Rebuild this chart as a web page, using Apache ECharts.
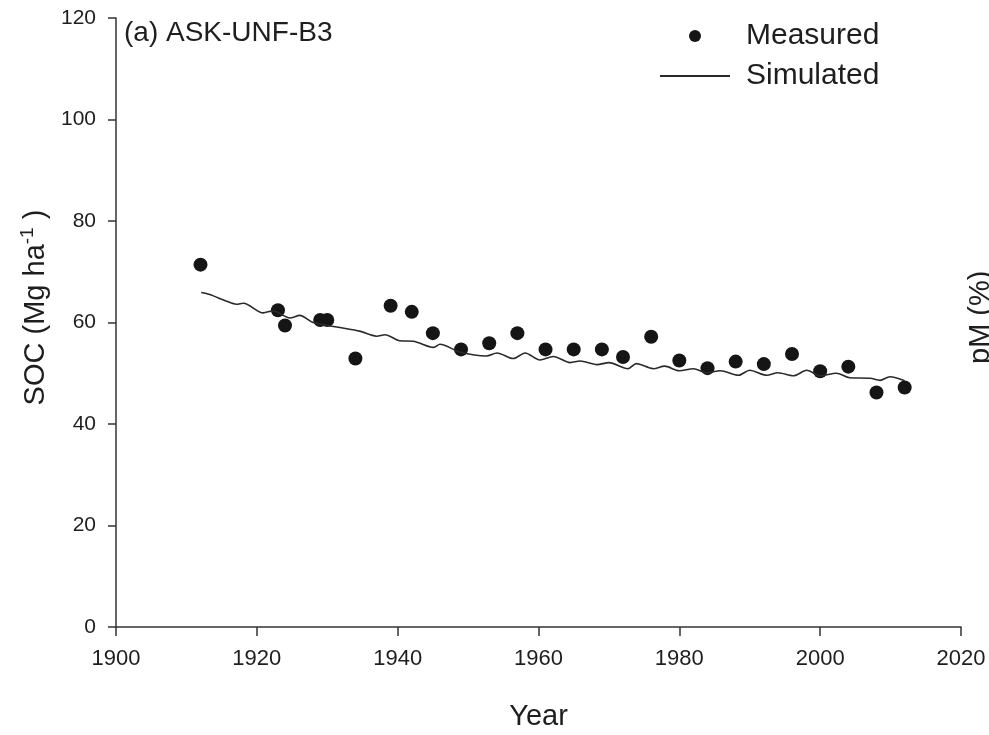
<!DOCTYPE html>
<html lang="en">
<head>
    <meta charset="UTF-8">
    <title>SOC ASK-UNF-B3</title>
    <script src="https://cdn.jsdelivr.net/npm/echarts@6/dist/echarts.min.js"></script>
    <style>
        body {
            margin: 0;
            background-color: #ffffff;
        }
        #chart {
            width: 989px;
            height: 735px;
        }
    </style>
</head>
<body>
<div id="chart"></div>
<script>
    // measured points
    var measuredYears = [1912, 1923, 1924, 1929, 1930, 1934, 1939, 1942, 1945, 1949, 1953, 1957, 1961,
        1965, 1969, 1972, 1976, 1980, 1984, 1988, 1992, 1996, 2000, 2004, 2008, 2012];
    var measuredSoc = [71.4, 62.4, 59.4, 60.5, 60.5, 52.9, 63.3, 62.1, 57.9, 54.7, 55.9, 57.9, 54.7,
        54.7, 54.7, 53.2, 57.2, 52.5, 51.0, 52.3, 51.8, 53.8, 50.4, 51.3, 46.2, 47.2];

    // simulated curve (traced)
    var simYears = [1912.1, 1913.3, 1915.7, 1917.1, 1918.1, 1920.9, 1922.3, 1924.7, 1926.1, 1928.0,
        1931.8, 1934.6, 1937.0, 1938.2, 1940.3, 1942.2, 1945.1, 1946.0, 1948.8, 1952.6,
        1954.1, 1956.4, 1958.1, 1960.2, 1962.1, 1964.5, 1965.9, 1968.3, 1970.0, 1972.7,
        1973.9, 1976.3, 1977.9, 1980.0, 1982.0, 1983.9, 1985.8, 1988.4, 1990.0, 1992.4,
        1994.0, 1996.2, 1998.1, 2000.0, 2002.3, 2004.2, 2007.1, 2008.5, 2009.9, 2012.0];
    var simSoc = [65.9, 65.5, 64.2, 63.6, 63.8, 61.9, 62.3, 60.9, 61.4, 60.0,
        59.0, 58.3, 57.3, 57.6, 56.4, 56.3, 55.1, 55.7, 54.2, 53.4,
        54.0, 52.9, 54.0, 52.6, 53.3, 52.1, 52.4, 51.7, 52.1, 50.9,
        51.9, 50.9, 51.4, 50.5, 50.9, 50.1, 50.5, 49.6, 50.6, 49.6,
        50.1, 49.5, 50.6, 49.5, 50.0, 49.1, 49.0, 48.6, 49.3, 48.5];

    var xTicks = {min: 1900, max: 2020, step: 20};
    var yTicks = {min: 0, max: 120, step: 20};

    var measuredData = measuredYears.map(function (y, i) { return [y, measuredSoc[i]]; });
    var simData = simYears.map(function (y, i) { return [y, simSoc[i]]; });

    var fontFam = '"Liberation Sans", Arial, sans-serif';
    var axisColor = '#333333';
    var txt = '#1e1e1e';

    var chart = echarts.init(document.getElementById('chart'));
    var option = {
        backgroundColor: '#ffffff',
        animation: false,
        textStyle: {fontFamily: fontFam},
        grid: {left: 116, right: 28, top: 18, bottom: 108, outerBoundsMode: 'none'},
        legend: {
            orient: 'vertical',
            left: 654,
            top: 16,
            itemWidth: 70,
            itemHeight: 12,
            itemGap: 10,
            textStyle: {fontSize: 30, color: txt, fontFamily: fontFam, padding: [0, 0, 0, 11]},
            data: [
                {name: 'Measured'},
                {name: 'Simulated', itemStyle: {opacity: 0}}
            ]
        },
        xAxis: {
            type: 'value',
            min: xTicks.min,
            max: xTicks.max,
            interval: xTicks.step,
            name: 'Year',
            nameLocation: 'middle',
            nameGap: 75,
            nameTextStyle: {fontSize: 29, color: txt},
            axisLine: {show: true, lineStyle: {color: axisColor, width: 1.5}},
            axisTick: {show: true, length: 9, lineStyle: {color: axisColor, width: 1.5}},
            axisLabel: {fontSize: 22, color: txt, margin: 21, formatter: function (v) { return String(v); }},
            splitLine: {show: false}
        },
        yAxis: {
            type: 'value',
            min: yTicks.min,
            max: yTicks.max,
            interval: yTicks.step,
            name: 'SOC (Mg ha{sup|-1} )',
            nameLocation: 'middle',
            nameGap: 52,
            nameTextStyle: {
                fontSize: 29,
                color: txt,
                padding: [0, 0, 0, 30],
                rich: {sup: {fontSize: 19, color: txt, padding: [0, 0, 16, 0]}}
            },
            axisLine: {show: true, lineStyle: {color: axisColor, width: 1.5}},
            axisTick: {show: true, length: 8, lineStyle: {color: axisColor, width: 1.5}},
            axisLabel: {fontSize: 21, color: txt, margin: 20},
            splitLine: {show: false}
        },
        graphic: [
            {type: 'text', left: 124, top: 19, style: {text: '(a) ASK-UNF-B3', fontSize: 28, fill: txt, fontFamily: fontFam}},
            {type: 'text', x: 966, y: 364, rotation: Math.PI / 2,
                style: {text: 'pM (%)', fontSize: 29, fill: txt, fontFamily: fontFam}}
        ],
        series: [
            {
                name: 'Simulated',
                type: 'line',
                data: simData,
                symbol: 'none',
                smooth: 0.3,
                lineStyle: {color: '#2a2a2a', width: 1.6},
                itemStyle: {color: '#2a2a2a'}
            },
            {
                name: 'Measured',
                type: 'scatter',
                data: measuredData,
                symbol: 'circle',
                symbolSize: 14,
                itemStyle: {color: '#151515', opacity: 1}
            }
        ]
    };
    chart.setOption(option);
</script>
</body>
</html>
